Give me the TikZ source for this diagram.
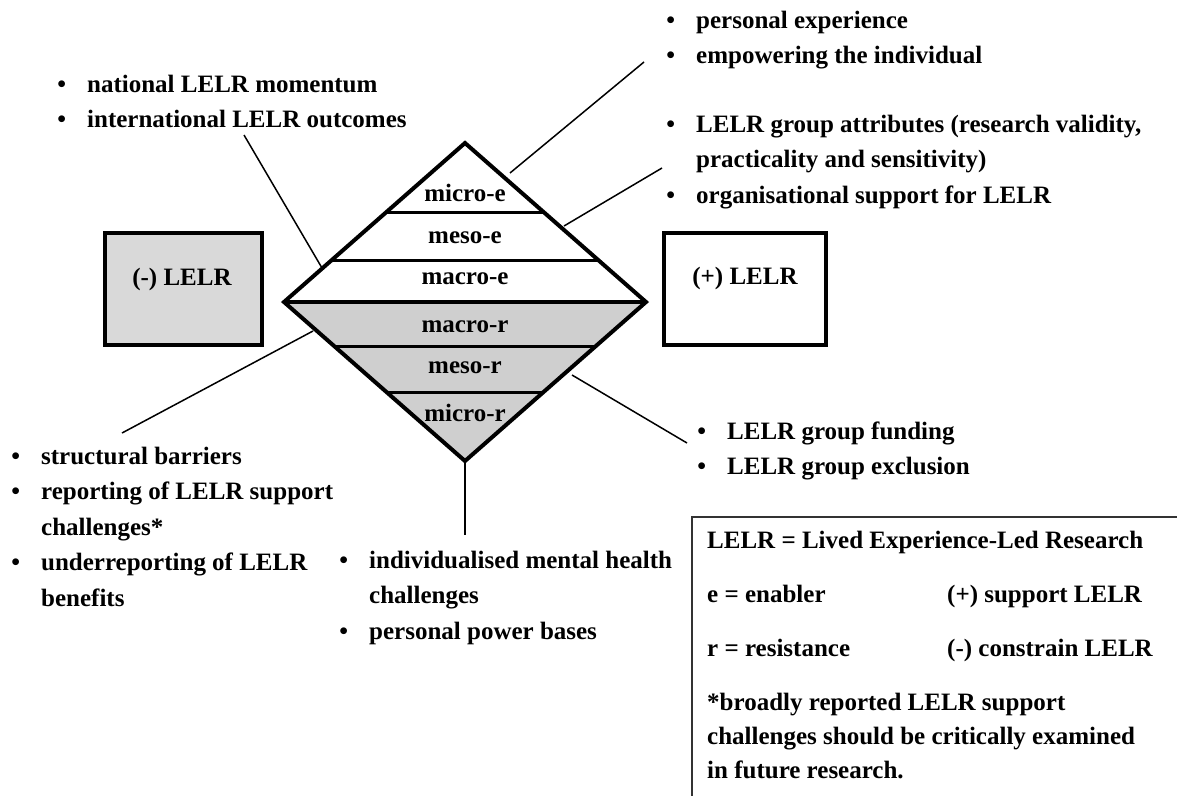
\documentclass[tikz,border=0pt]{standalone}
\usepackage{fontspec}
\setmainfont{Liberation Serif}
\usetikzlibrary{calc}
\newcommand{\itm}{\llap{\textbullet\hspace{21pt}}}

\begin{document}
\begin{tikzpicture}
  [x=1pt,y=-1pt,every node/.style={font=\bfseries\fontsize{25}{35.5}\selectfont,inner sep=0pt}]
  \tikzstyle{block} = [anchor=base west,align=left]
  \tikzstyle{tag} = [draw,line width=4pt,minimum width=157pt,minimum height=112pt]
  \tikzstyle{link} = [line width=1.5pt]
  \useasboundingbox (0,0) rectangle (1177,796);
  \coordinate (top) at (465,143);
  \coordinate (lft) at (284,302);
  \coordinate (rgt) at (646,302);
  \coordinate (bot) at (465,461);
  \fill[black!19] (lft) -- (rgt) -- (bot) -- cycle;
  \foreach \a /\f in {top/.44,top/.736,bot/.723,bot/.428}
   \draw[line width=3pt] ($(\a)!\f!(lft)$) -- ($(\a)!\f!(rgt)$);
  \draw[line width=4pt,line join=miter] (top) -- (rgt) -- (bot) -- (lft) -- cycle;
  \draw[line width=4pt] (lft) -- (rgt);
  \node (me) at (465,193) {micro-e};
  \node (se) at (465,238) {meso-e};
  \node (ae) at (465,279) {macro-e};
  \node (ar) at (465,327) {macro-r};
  \node (sr) at (465,368) {meso-r};
  \node (mr) at (465,413) {micro-r};
  \node[tag,fill=black!15] (neg) at (183,288.5) {};
  \node (negt) at (182,279) {(-) LELR};
  \node[tag,minimum width=162pt] (pos) at (745,288.5) {};
  \node (post) at (745,278) {(+) LELR};
  \node[block] (macroe) at (87,127.5) {\itm national LELR momentum\\
    \itm international LELR outcomes};
  \node[block] (microe) at (696,63.5) {\itm personal experience\\
    \itm empowering the individual};
  \node[block] (mesoe) at (696,203) {\itm LELR group attributes (research validity,\\
    practicality and sensitivity)\\
    \itm organisational support for LELR};
  \node[block] (mesor) at (727,474.5) {\itm LELR group funding\\
    \itm LELR group exclusion};
  \node[block] (micror) at (369,639) {\itm individualised mental health\\
    challenges\\
    \itm personal power bases};
  \node[block] (macror) at (41,606) {\itm structural barriers\\
    \itm reporting of LELR support\\
    challenges*\\
    \itm underreporting of LELR\\
    benefits};
  \coordinate (ul) at (322,268);  \coordinate (ulx) at (244,135);
  \coordinate (tr) at (510,173);  \coordinate (trx) at (644,62);
  \coordinate (rr) at (564,226);  \coordinate (rrx) at (662,168);
  \coordinate (ll) at (313,331);  \coordinate (llx) at (122,433);
  \coordinate (lr) at (572,375);  \coordinate (lrx) at (687,443);
  \coordinate (bm) at (465,535);
  \foreach \source /\dest in {ul/ulx,tr/trx,rr/rrx,ll/llx,lr/lrx,bot/bm}
   \draw[link] (\source) -- (\dest);
  \coordinate (k1) at (1177,517);
  \coordinate (k2) at (692,517);
  \coordinate (k3) at (692,796);
  \draw[line width=1.3pt,black!80] (k1) -- (k2) -- (k3);
  \node[block,font=\bfseries\fontsize{25}{34}\selectfont] (key) at (707,778)
   {LELR = Lived Experience-Led Research\\[20pt]
    \makebox[240pt][l]{e = enabler}(+) support LELR\\[20pt]
    \makebox[240pt][l]{r = resistance}(-) constrain LELR\\[20pt]
    *broadly reported LELR support\\
    challenges should be critically examined\\
    in future research.};
\end{tikzpicture}
\end{document}
